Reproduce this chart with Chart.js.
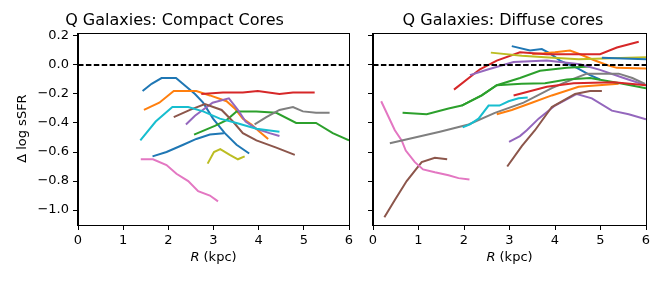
<!DOCTYPE html>
<html>
<head>
<meta charset="utf-8">
<script src="https://cdn.jsdelivr.net/npm/chart.js@4.4.0/dist/chart.umd.min.js"></script>
<style>
    body { margin: 0; background: #fff; }
    #wrap { position: relative; width: 664px; height: 285px; }
    #chartCompact { position: absolute; left: 0; top: 0; }
    #chartDiffuse { position: absolute; left: 360px; top: 0; }
</style>
</head>
<body>
<div id="wrap">
    <canvas id="chartCompact" width="360" height="285"></canvas>
    <canvas id="chartDiffuse" width="304" height="285"></canvas>
</div>
<script>
// matplotlib tab10 cycle
const tab10 = ['#1f77b4', '#ff7f0e', '#2ca02c', '#d62728', '#9467bd',
               '#8c564b', '#e377c2', '#7f7f7f', '#bcbd22', '#17becf'];

// axis stuff
const xTicksMin = 0, xTicksMax = 6, xStep = 1;
const yMin = -1.103, yMax = 0.212, yStep = 0.2;
const zeroLineR = [0, 6];
const zeroLineY = [0, 0];

// Q galaxies, compact cores: [R (kpc), delta log sSFR]
const compactBlue = [[1.43,-0.18],[1.63,-0.13],[1.85,-0.09],[2.17,-0.09],[2.36,-0.14],[2.59,-0.2],[2.77,-0.26],[2.99,-0.37],[3.25,-0.47],[3.51,-0.55],[3.79,-0.61]];
const compactOrange = [[1.46,-0.31],[1.8,-0.26],[2.12,-0.18],[2.62,-0.18],[2.92,-0.21],[3.29,-0.25],[3.47,-0.3],[3.65,-0.37],[3.84,-0.41],[4.02,-0.46],[4.21,-0.51]];
const compactGreen = [[2.57,-0.48],[3.03,-0.42],[3.29,-0.38],[3.51,-0.32],[3.95,-0.32],[4.39,-0.33],[4.83,-0.4],[5.27,-0.4],[5.64,-0.47],[6.0,-0.52]];
const compactRed = [[2.73,-0.2],[3.21,-0.19],[3.65,-0.19],[3.98,-0.18],[4.46,-0.2],[4.76,-0.19],[5.24,-0.19]];
const compactPurple = [[2.39,-0.41],[2.59,-0.35],[2.98,-0.26],[3.34,-0.23],[3.54,-0.31],[3.71,-0.39],[3.95,-0.44],[4.24,-0.47],[4.46,-0.49]];
const compactBrown = [[2.12,-0.36],[2.48,-0.31],[2.81,-0.27],[3.18,-0.31],[3.43,-0.39],[3.65,-0.47],[3.95,-0.52],[4.39,-0.57],[4.8,-0.62]];
const compactPink = [[1.39,-0.65],[1.66,-0.65],[1.96,-0.69],[2.18,-0.75],[2.44,-0.8],[2.66,-0.87],[2.92,-0.9],[3.1,-0.94]];
const compactGray = [[3.91,-0.41],[4.17,-0.36],[4.46,-0.31],[4.76,-0.29],[4.98,-0.32],[5.27,-0.33],[5.57,-0.33]];
const compactOlive = [[2.87,-0.68],[3.01,-0.6],[3.15,-0.58],[3.36,-0.62],[3.54,-0.65],[3.69,-0.63]];
const compactCyan = [[1.38,-0.52],[1.72,-0.39],[2.09,-0.29],[2.44,-0.29],[2.77,-0.32],[3.14,-0.37],[3.51,-0.4],[3.95,-0.44],[4.46,-0.46]];
const compactBlue2 = [[1.65,-0.63],[1.96,-0.6],[2.33,-0.55],[2.62,-0.51],[2.92,-0.48],[3.23,-0.47]];

// Q galaxies, diffuse cores
const diffuseBlue = [[3.05,0.13],[3.45,0.1],[3.71,0.11],[3.89,0.08],[4.11,0.03],[4.48,-0.02],[4.77,-0.07],[4.99,-0.1]];
const diffuseOrange = [[3.5,0.075],[3.75,0.08],[4.0,0.087],[4.33,0.1],[4.55,0.074],[4.85,0.034],[5.14,0.0],[5.36,-0.02],[6.0,-0.025]];
const diffuseGreen = [[0.65,-0.33],[1.18,-0.34],[1.66,-0.3],[1.95,-0.28],[2.39,-0.21],[2.72,-0.14],[3.23,-0.09],[3.67,-0.04],[4.26,-0.02],[4.77,-0.01]];
const diffuseRed = [[1.78,-0.17],[2.35,-0.03],[2.72,0.03],[3.23,0.087],[3.82,0.074],[4.99,0.074],[5.36,0.12],[5.84,0.16]];
const diffusePurple = [[2.13,-0.07],[2.54,-0.03],[3.09,0.02],[3.82,0.03],[4.55,0.005],[4.99,-0.034],[5.51,-0.09],[6.0,-0.14]];
const diffuseBrown = [[0.25,-1.05],[0.48,-0.93],[0.74,-0.8],[1.07,-0.67],[1.36,-0.64],[1.63,-0.65]];
const diffusePink = [[0.18,-0.25],[0.33,-0.35],[0.48,-0.45],[0.63,-0.52],[0.72,-0.59],[0.92,-0.67],[1.1,-0.72],[1.36,-0.74],[1.66,-0.76],[1.88,-0.78],[2.12,-0.79]];
const diffuseGray = [[0.37,-0.54],[1.47,-0.46],[2.1,-0.41],[2.68,-0.33],[3.31,-0.26],[3.93,-0.16],[4.37,-0.1],[4.7,-0.06],[5.4,-0.06],[5.7,-0.09],[5.98,-0.13]];
const diffuseOlive = [[2.59,0.085],[3.27,0.064],[3.78,0.053],[4.52,0.039],[5.25,0.046],[6.0,0.053]];
const diffuseCyan = [[1.97,-0.43],[2.13,-0.41],[2.32,-0.37],[2.54,-0.28],[2.78,-0.28],[2.98,-0.25],[3.2,-0.23],[3.4,-0.225]];
const diffuseBlue2 = [[5.03,0.05],[5.5,0.045],[6.0,0.04]];
const diffuseOrange2 = [[2.72,-0.34],[3.05,-0.31],[3.49,-0.26],[3.93,-0.21],[4.52,-0.15],[4.96,-0.14],[5.4,-0.13]];
const diffuseGreen2 = [[1.95,-0.28],[2.39,-0.21],[2.72,-0.14],[3.27,-0.13],[3.78,-0.126],[4.26,-0.1],[4.77,-0.09],[5.43,-0.126],[6.0,-0.16]];
const diffuseRed2 = [[3.09,-0.21],[3.82,-0.15],[4.41,-0.126],[5.29,-0.12],[6.0,-0.14]];
const diffusePurple2 = [[2.99,-0.53],[3.23,-0.49],[3.38,-0.45],[3.64,-0.37],[4.0,-0.28],[4.48,-0.2],[4.81,-0.23],[5.25,-0.315],[5.62,-0.34],[6.0,-0.375]];
const diffuseBrown2 = [[2.95,-0.7],[3.27,-0.56],[3.56,-0.45],[3.93,-0.29],[4.44,-0.2],[4.77,-0.18],[5.03,-0.18]];

const compactLines = [compactBlue, compactOrange, compactGreen, compactRed, compactPurple,
    compactBrown, compactPink, compactGray, compactOlive, compactCyan, compactBlue2];
const diffuseLines = [diffuseBlue, diffuseOrange, diffuseGreen, diffuseRed, diffusePurple,
    diffuseBrown, diffusePink, diffuseGray, diffuseOlive, diffuseCyan,
    diffuseBlue2, diffuseOrange2, diffuseGreen2, diffuseRed2, diffusePurple2, diffuseBrown2];

Chart.defaults.font.family = '"DejaVu Sans", sans-serif';
Chart.defaults.color = '#000';

function buildDatasets(lines) {
    var sets = [];
    lines.forEach(function (pts, i) {
        sets.push({
            data: pts.map(function (p) { return { x: p[0], y: p[1] }; }),
            borderColor: tab10[i % 10],
            borderWidth: 2,
            pointRadius: 0,
            tension: 0,
            fill: false
        });
    });
    // dashed zero line, matplotlib draws it last
    sets.push({
        data: zeroLineR.map(function (r, i) { return { x: r, y: zeroLineY[i] }; }),
        borderColor: '#000',
        borderWidth: 2,
        borderDash: [5.5, 2.4],
        pointRadius: 0,
        fill: false
    });
    // chart.js puts dataset 0 on top, mpl the other way round
    return sets.reverse();
}

var framePlugin = {
    id: 'frame',
    afterDraw: function (chart) {
        var a = chart.chartArea, c = chart.ctx;
        c.save();
        c.strokeStyle = '#000';
        c.lineWidth = 1;
        c.strokeRect(Math.round(a.left) - 0.5, Math.round(a.top) - 0.5,
            Math.round(a.right - a.left) + 1, Math.round(a.bottom - a.top) + 1);
        c.restore();
    }
};

var axisTitles = {
    id: 'axisTitles',
    afterDraw: function (chart, args, opts) {
        var a = chart.chartArea, c = chart.ctx;
        var plain = '13px "DejaVu Sans"';
        var ital = 'italic 13px "DejaVu Sans"';
        c.save();
        c.fillStyle = '#000';
        c.textBaseline = 'middle';
        c.textAlign = 'left';
        c.font = ital;
        var w1 = c.measureText('R').width;
        c.font = plain;
        var w2 = c.measureText(' (kpc)').width;
        var x0 = (a.left + a.right) / 2 - (w1 + w2) / 2;
        var y0 = a.bottom + 33;
        c.font = ital;
        c.fillText('R', x0, y0);
        c.font = plain;
        c.fillText(' (kpc)', x0 + w1, y0);
        if (opts.yTitle) {
            c.translate(23, (a.top + a.bottom) / 2 - 1);
            c.rotate(-Math.PI / 2);
            c.textAlign = 'center';
            c.fillText(opts.yTitle, 0, 0);
        }
        c.restore();
    }
};

function fmtY(v) {
    if (Math.abs(v) < 1e-9) return '0.0';
    return (v < 0 ? '\u2212' : '') + Math.abs(v).toFixed(1);
}

function makeChart(id, title, lines, yWidth, padRight, showYLabels, yTitle) {
    return new Chart(document.getElementById(id), {
        type: 'line',
        data: { datasets: buildDatasets(lines) },
        plugins: [framePlugin, axisTitles],
        options: {
            responsive: false,
            animation: false,
            layout: {
                padding: { left: 0, right: padRight, top: 0, bottom: 0 }
            },
            plugins: {
                legend: { display: false },
                tooltip: { enabled: false },
                title: {
                    display: true,
                    text: title,
                    color: '#000',
                    font: { size: 16, weight: 'normal' },
                    padding: { top: 11, bottom: 4 }
                },
                axisTitles: { yTitle: yTitle }
            },
            scales: {
                x: {
                    type: 'linear',
                    min: xTicksMin,
                    max: xTicksMax,
                    ticks: {
                        stepSize: xStep,
                        font: { size: 13 },
                        padding: 3,
                        maxRotation: 0
                    },
                    grid: {
                        drawOnChartArea: false,
                        drawTicks: true,
                        tickLength: 5,
                        color: '#000'
                    },
                    border: { display: true, color: '#000' },
                    afterFit: function (s) { s.height = 60; }
                },
                y: {
                    type: 'linear',
                    min: yMin,
                    max: yMax,
                    ticks: {
                        display: showYLabels,
                        stepSize: yStep,
                        includeBounds: false,
                        font: { size: 13 },
                        padding: 4,
                        callback: function (v) { return fmtY(v); }
                    },
                    grid: {
                        drawOnChartArea: false,
                        drawTicks: true,
                        tickLength: 5,
                        color: '#000'
                    },
                    border: { display: true, color: '#000' },
                    afterFit: function (s) { s.width = yWidth; }
                }
            }
        }
    });
}

var chartCompact = makeChart('chartCompact', 'Q Galaxies: Compact Cores', compactLines, 78, 11, true, '\u0394 log sSFR');
var chartDiffuse = makeChart('chartDiffuse', 'Q Galaxies: Diffuse cores', diffuseLines, 13, 18, false, null);
</script>
</body>
</html>
